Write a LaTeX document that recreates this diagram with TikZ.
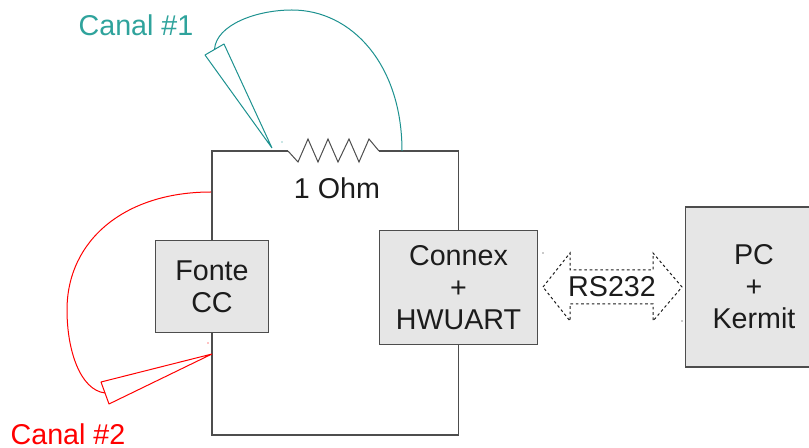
\documentclass[tikz,border=0pt]{standalone}
\usepackage{fontspec}
\setmainfont{Liberation Sans}
\usepackage{tikz}
\usetikzlibrary{positioning}
\usetikzlibrary{calc}
\definecolor{boxfill}{HTML}{E6E6E6}
\definecolor{wiregray}{HTML}{4D4D4D}
\definecolor{inktext}{HTML}{1C1C1C}
\definecolor{canalteal}{HTML}{1C918F}
\definecolor{canallabel}{HTML}{2FA39C}
\definecolor{canalred}{HTML}{FF0000}
\tikzset{
	blockbox/.style = {fill = boxfill, draw = wiregray, rectangle, line width = 0.85pt, align = center, text = inktext, inner sep = 0pt, font = \fontsize{21.5}{24}\selectfont},
	wire/.style = {draw = wiregray, line width = 0.85pt},
	bigtext/.style = {font = \fontsize{21.5}{24}\selectfont, text = inktext, inner sep = 0pt},
	probe/.style = {line width = 0.75pt, line join = bevel},
	speck/.style = {circle, fill, inner sep = 0pt, minimum size = 1pt}
}
\begin{document}
\begin{tikzpicture}[x = 0.75pt, y = -0.75pt]
	\useasboundingbox (0,0) rectangle (809,448);
	\node[blockbox, minimum width = 85pt, minimum height = 68.5pt] at (212,286.5) (fonte) {Fonte\\CC};
	\node[blockbox, minimum width = 119pt, minimum height = 86pt] at (458.5,287.5) (connex) {Connex\\+\\HWUART};
	\node[blockbox, minimum width = 103pt, minimum height = 120pt] at (754,287) (pc) {PC\\+\\Kermit};
	\node[bigtext] at (337,188) (ohm) {1 Ohm};
	\node[bigtext] at (612,287) (rs) {RS232};
	\node[bigtext, text = canallabel] at (136,25) (canalA) {Canal \#1};
	\node[bigtext, text = canalred] at (68,434) (canalB) {Canal \#2};
	\coordinate (resA) at (288,151);
	\coordinate (resB) at (379,151);
	\coordinate (bottom) at (335,435);
	% circuit
	\draw[wire] (fonte) |- (resA);
	\draw[wire] (connex) |- (resB);
	\draw[wire] (fonte) |- (bottom) -| (connex);
	\draw[wire, line width = 0.75pt] (resA) -- (298,162) -- (308,139) -- (318,162) -- (328,139) -- (338,162) -- (349,139) -- (359,162) -- (369,139) -- (resB);
	% serial link
	\draw[draw = inktext, dash pattern = on 2pt off 2pt, line width = 0.75pt] (543,287) -- (570,253) -- (570,270) -- (653,270) -- (653,253) -- (682,287) -- (653,321) -- (653,304) -- (570,304) -- (570,321) -- cycle;
	% canal 1
	\coordinate (tipA) at (272,148);
	\coordinate (baseA) at (214.5,49.5);
	\coordinate (endA) at (402,151);
	\draw[probe, canalteal] (tipA) -- (205,55) -- (224,44) -- cycle;
	\draw[probe, canalteal] (baseA) .. controls (216,25) and (256,10) .. (292,10) .. controls (352,10) and (402,65) .. (endA);
	% canal 2
	\coordinate (tipB) at (212,354);
	\coordinate (baseB) at (105,393);
	\coordinate (endB) at (211,192);
	\draw[probe, canalred] (tipB) -- (101,382) -- (109,404) -- cycle;
	\draw[probe, canalred] (baseB) .. controls (80,390) and (67,350) .. (67,310) .. controls (67,240) and (125,192) .. (endB);
	% leftover handles
	\node[speck, canalteal] at (282,142) (dotA) {};
	\node[speck, canalred] at (208,343) (dotB) {};
	\node[speck, inktext] at (543,253) (dotC) {};
	\node[speck, inktext] at (682,321) (dotD) {};
\end{tikzpicture}
\end{document}
